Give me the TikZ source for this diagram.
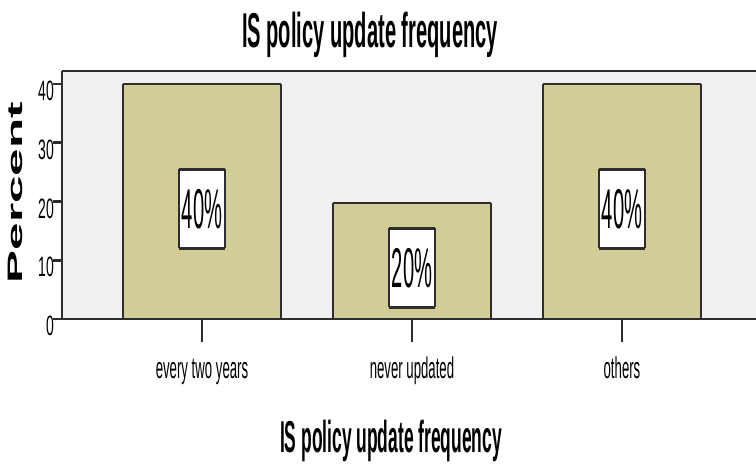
\documentclass[tikz,border=0pt]{standalone}
\usepackage{fontspec}
\setmainfont{Liberation Sans}
\usepackage{graphicx}
\definecolor{barc}{RGB}{210,205,150}
\definecolor{plotbg}{RGB}{240,240,240}
\definecolor{linec}{RGB}{45,45,45}
\newcommand\sqz[2]{\scalebox{#1}[1]{#2}}
\begin{document}
\begin{tikzpicture}[x=1pt,y=-1pt,
  hl/.style={draw=linec,line width=2.6pt},
  vl/.style={draw=linec,line width=1.1pt},
  barbox/.style={fill=barc,inner sep=0pt,outer sep=0pt,minimum width=158pt,anchor=south},
  lbox/.style={fill=white,inner sep=0pt,outer sep=0pt,minimum width=46pt,minimum height=79pt,
     font=\fontsize{56}{56}\selectfont},
  ticklab/.style={anchor=east,inner sep=0pt,font=\fontsize{28}{28}\selectfont},
  catlab/.style={anchor=base,inner sep=0pt,font=\fontsize{30}{30}\selectfont},
  ttl/.style={anchor=base,inner sep=0pt}]
\useasboundingbox (0,0) rectangle (756,465);
% plot area
\fill[plotbg] (62,71) rectangle (756,319);
% bars
\node[barbox,minimum height=235pt] (b1) at (202,319) {};
\node[barbox,minimum height=116pt] (b2) at (412,319) {};
\node[barbox,minimum height=235pt] (b3) at (622,319) {};
\foreach \b in {b1,b2,b3}{
  \draw[vl] (\b.south west) -- (\b.north west);
  \draw[vl] (\b.south east) -- (\b.north east);
  \draw[hl] (\b.north west) -- (\b.north east);
}
% value label boxes
\node[lbox] (l1) at (202,209) {\sqz{0.36}{40\%}};
\node[lbox] (l2) at (412,268) {\sqz{0.36}{20\%}};
\node[lbox] (l3) at (622,209) {\sqz{0.36}{40\%}};
\foreach \b in {l1,l2,l3}{
  \draw[vl] (\b.south west) -- (\b.north west);
  \draw[vl] (\b.south east) -- (\b.north east);
  \draw[hl] (\b.north west) -- (\b.north east);
  \draw[hl] (\b.south west) -- (\b.south east);
}
% frame
\coordinate (ftl) at (62,71);
\coordinate (ftr) at (756,71);
\coordinate (fbl) at (62,319);
\coordinate (fbr) at (756,319);
\draw[hl] (ftl) -- (ftr);
\draw[vl] (ftl) -- (fbl);
\draw[hl] (fbl) -- (fbr);
% y ticks and labels
\foreach \v/\yy in {0/319,10/260.25,20/201.5,30/142.75,40/84}{
  \draw[hl] (53,\yy) -- (62,\yy);
  \node[ticklab] (t\v) at (54,\yy+7) {\sqz{0.5}{\v}};
}
% x ticks and labels
\foreach \xx/\nm in {202/c1,412/c2,622/c3}{
  \coordinate (\nm top) at (\xx,319);
  \coordinate (\nm bot) at (\xx,342);
  \draw[vl] (\nm top) -- (\nm bot);
}
\node[catlab] (k1) at (202,379) {\sqz{0.44}{every two years}};
\node[catlab] (k2) at (412,379) {\sqz{0.44}{never updated}};
\node[catlab] (k3) at (622,379) {\sqz{0.44}{others}};
% titles
\node[ttl] (title) at (370,48) {\fontsize{48.9}{49}\selectfont\bfseries\sqz{0.411}{IS policy update frequency}};
\node[ttl] (xtitle) at (391,452) {\fontsize{44.7}{45}\selectfont\bfseries\sqz{0.39}{IS policy update frequency}};
\node[inner sep=0pt,rotate=90] (ytitle) at (15.5,192.5) {\fontsize{47.5}{48}\selectfont\bfseries\scalebox{1.04}[0.44]{Percent}};
\end{tikzpicture}
\end{document}
